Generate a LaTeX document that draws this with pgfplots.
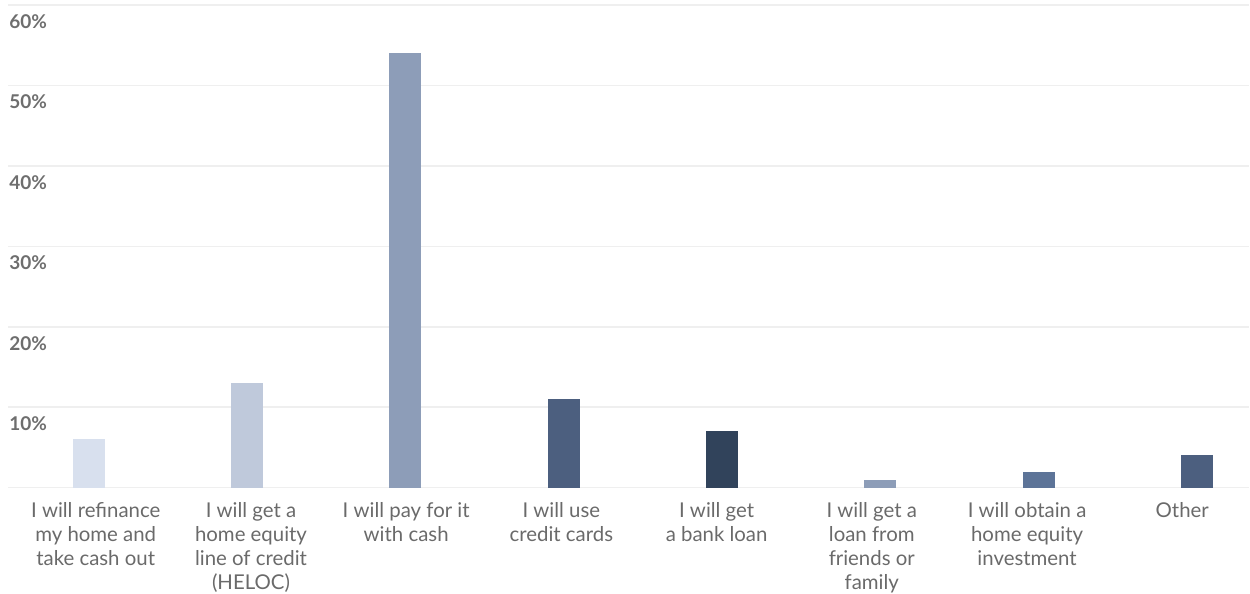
\documentclass[border=0pt]{standalone}
\usepackage{pgfplots}
\pgfplotsset{compat=1.18}
\usepackage{fontspec}
\setmainfont{Lato}
\definecolor{gridc}{HTML}{EFEFEF}
\definecolor{tickc}{HTML}{6E6E6E}
\definecolor{labc}{HTML}{6A6A6A}
\definecolor{c1}{HTML}{D8E0EE}
\definecolor{c2}{HTML}{BFC9DB}
\definecolor{c3}{HTML}{8D9DB8}
\definecolor{c4}{HTML}{4C5F7F}
\definecolor{c5}{HTML}{31435B}
\definecolor{c7}{HTML}{5D7498}
\begin{document}
\begin{tikzpicture}
\begin{axis}[
  scale only axis,
  width=621pt, height=241.5pt,
  xmin=-0.51, xmax=7.33,
  ymin=0, ymax=60,
  axis line style={draw=none},
  major tick length=0pt,
  ymajorgrids,
  grid style={gridc, line width=0.8pt},
  ytick={0,10,20,30,40,50,60},
  yticklabels={{},10\%,20\%,30\%,40\%,50\%,60\%},
  yticklabel style={anchor=north west, inner sep=0pt, xshift=0.5pt, yshift=-4.5pt,
     font=\fontsize{9.5}{11}\selectfont\bfseries, text=tickc},
  xtick={0.044,1.025,2.005,2.985,3.966,4.946,5.927,6.907},
  xticklabels={
    {I will refinance\\my home and\\take cash out},
    {I will get a\\home equity\\line of credit\\(HELOC)},
    {I will pay for it\\with cash},
    {I will use\\credit cards},
    {I will get\\a bank loan},
    {I will get a\\loan from\\friends or\\family},
    {I will obtain a\\home equity\\investment},
    {Other}},
  xticklabel style={align=center, anchor=north, inner sep=0pt, yshift=-7pt,
     font=\fontsize{10.2}{12.1}\selectfont, text=labc},
  ybar, bar width=16pt, bar shift=0pt,
  /pgf/number format/assume math mode=true,
  clip=false,
]
\addplot[fill=c1, draw=none] coordinates {(0,6)};
\addplot[fill=c2, draw=none] coordinates {(1,13)};
\addplot[fill=c3, draw=none] coordinates {(2,54)};
\addplot[fill=c4, draw=none] coordinates {(3,11)};
\addplot[fill=c5, draw=none] coordinates {(4,7)};
\addplot[fill=c3, draw=none] coordinates {(5,1)};
\addplot[fill=c7, draw=none] coordinates {(6,2)};
\addplot[fill=c4, draw=none] coordinates {(7,4)};
\end{axis}
\path[use as bounding box] (-4pt,-52pt) rectangle (621pt,244pt);
\end{tikzpicture}
\end{document}
